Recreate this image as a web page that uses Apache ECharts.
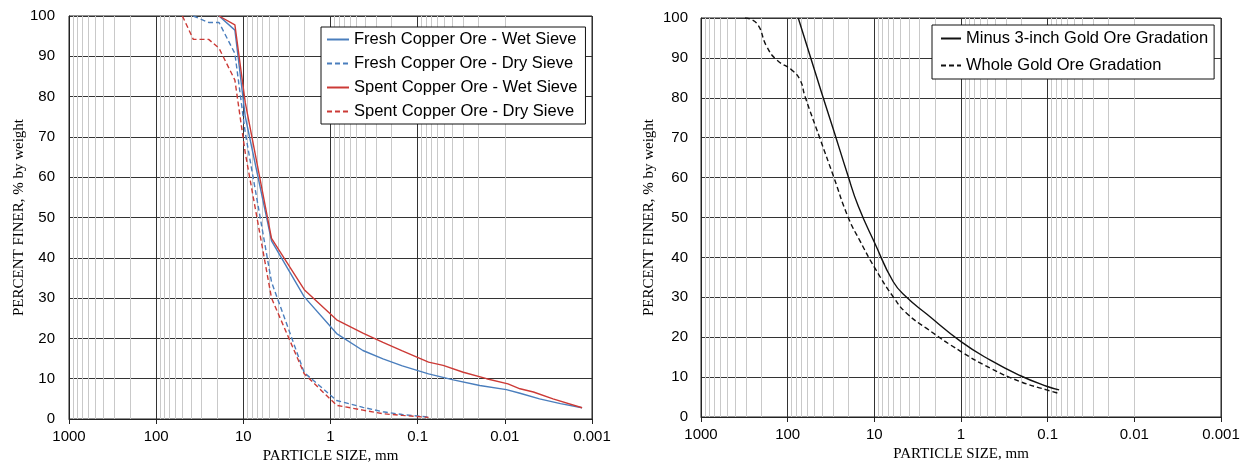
<!DOCTYPE html>
<html>
<head>
<meta charset="utf-8">
<title>Particle size distribution</title>
<script src="https://cdn.jsdelivr.net/npm/echarts@6/dist/echarts.min.js"></script>
<style>
  html, body { margin: 0; padding: 0; background: #fff; }
  #chart { width: 1247px; height: 462px; }
</style>
</head>
<body>
<div id="chart"></div>
<script>
// Particle size (mm) and percent finer (% by weight) for each gradation curve.
const sizeFreshWet  = [19, 12.5, 9.5, 4.75, 2.0, 0.85, 0.425, 0.25, 0.15, 0.075, 0.039, 0.0194, 0.0096, 0.0067, 0.0040, 0.0023, 0.0013];
const finerFreshWet = [100, 96.5, 75, 44.2, 30.3, 21.2, 17.0, 14.9, 13.2, 11.2, 9.7, 8.3, 7.3, 6.4, 5.0, 3.8, 2.8];

const sizeFreshDry  = [37.5, 25, 19, 12.5, 9.5, 4.75, 2.0, 0.85, 0.425, 0.25, 0.15, 0.075];
const finerFreshDry = [100, 98.4, 98.4, 90.7, 71, 34, 11.5, 4.6, 2.9, 1.8, 1.1, 0.5];

const sizeSpentWet  = [19, 12.5, 9.5, 4.75, 2.0, 0.85, 0.425, 0.25, 0.15, 0.075, 0.051, 0.030, 0.0162, 0.0092, 0.0067, 0.0047, 0.0028, 0.0013];
const finerSpentWet = [100, 97.8, 78.5, 44.8, 32.1, 24.6, 21.3, 19.0, 16.9, 14.1, 13.3, 11.6, 10.0, 8.7, 7.5, 6.7, 5.0, 2.8];

const sizeSpentDry  = [50, 37.5, 25, 19, 12.5, 9.5, 4.75, 2.0, 0.85, 0.425, 0.25, 0.15, 0.075];
const finerSpentDry = [100, 94.2, 94.2, 92.0, 84.1, 66, 30, 11.2, 3.4, 2.2, 1.3, 0.9, 0.4];

const sizeMinus3  = [75.5, 40.5, 29.8, 20.3, 15.3, 9.84, 6.05, 4.24, 2.49, 1.0, 0.464, 0.209, 0.103, 0.0737];
const finerMinus3 = [100, 81.2, 72.2, 60.7, 52.8, 43.5, 33.9, 30.0, 25.8, 18.9, 14.3, 10.4, 7.7, 6.8];

const sizeWhole  = [311, 228, 175, 134, 90, 72, 63, 42.4, 29.8, 20, 14.7, 9.84, 6.05, 4.24, 2.49, 1.0, 0.464, 0.209, 0.103, 0.0737];
const finerWhole = [100, 98.7, 92.9, 89.5, 87.0, 84.5, 80.3, 69.8, 60.5, 50.0, 44.2, 37.3, 30.1, 26.0, 22.2, 16.4, 12.3, 8.9, 6.8, 5.9];

const xTickLabels = ['0.001', '0.01', '0.1', '1', '10', '100', '1000'];
const copperNames = ['Fresh Copper Ore - Wet Sieve', 'Fresh Copper Ore - Dry Sieve',
                     'Spent Copper Ore - Wet Sieve', 'Spent Copper Ore - Dry Sieve'];
const goldNames = ['Minus 3-inch Gold Ore Gradation', 'Whole Gold Ore Gradation'];

const BLUE = '#4a7ebd';
const RED = '#cc3a36';
const SANS = 'Liberation Sans';
const SERIF = 'Liberation Serif';

function pairs(xs, ys) { return xs.map((x, i) => [x, ys[i]]); }

// 2..9 × 10^k grid positions inside each decade of the log axis
const minorValues = [];
for (let k = -3; k <= 2; k++) {
  for (let m = 2; m <= 9; m++) minorValues.push(+(m * Math.pow(10, k)).toPrecision(3));
}

function xAxisFor(idx) {
  return {
    type: 'log', logBase: 10, gridIndex: idx, min: 0.001, max: 1000, inverse: true, splitNumber: 6,
    name: 'PARTICLE SIZE, mm', nameLocation: 'middle', nameGap: 27,
    nameTextStyle: { fontFamily: SERIF, fontSize: 15, color: '#000' },
    axisLine: { show: true, lineStyle: { color: '#222', width: 1 } },
    axisTick: { show: true, length: 5, lineStyle: { color: '#222' } },
    axisLabel: {
      color: '#000', fontFamily: SANS, fontSize: 15, margin: 10,
      formatter: v => xTickLabels[Math.round(Math.log10(v)) + 3]
    },
    splitLine: { show: true, lineStyle: { color: '#333', width: 1 } }
  };
}

function yAxisFor(idx, gap, labelMargin) {
  return {
    type: 'value', gridIndex: idx, min: 0, max: 100, interval: 10,
    name: 'PERCENT FINER, % by weight', nameLocation: 'middle', nameGap: gap,
    nameTextStyle: { fontFamily: SERIF, fontSize: 15, color: '#000' },
    axisLine: { show: true, lineStyle: { color: '#222', width: 1 } },
    axisTick: { show: false },
    axisLabel: { color: '#000', fontFamily: SANS, fontSize: 15, margin: labelMargin },
    splitLine: { show: true, lineStyle: { color: '#333', width: 1 } }
  };
}

function minorGrid(idx) {
  return {
    type: 'line', xAxisIndex: idx, yAxisIndex: idx, data: [], silent: true, z: 1,
    markLine: {
      z: 1, silent: true, symbol: 'none', label: { show: false }, animation: false,
      lineStyle: { color: '#c9c9c9', width: 1, type: 'solid' },
      data: minorValues.map(v => ({ xAxis: v }))
    }
  };
}

function curve(name, idx, xs, ys, color, dashed, smooth) {
  return {
    type: 'line', name, xAxisIndex: idx, yAxisIndex: idx, data: pairs(xs, ys),
    symbol: 'none', smooth: smooth || false, z: 3,
    lineStyle: { color, width: 1.4, type: dashed ? [5, 3] : 'solid' },
    itemStyle: { color }
  };
}

function legendFor(names, left, top, padding, itemGap, itemWidth) {
  return {
    data: names, orient: 'vertical', left, top, padding, itemGap,
    itemWidth, itemHeight: 16, z: 10,
    itemStyle: { opacity: 0 },
    backgroundColor: '#fff', borderColor: '#111', borderWidth: 1, borderRadius: 0,
    selectedMode: false,
    textStyle: { fontFamily: SANS, fontSize: 16.5, color: '#000' }
  };
}

const chart = echarts.init(document.getElementById('chart'), null, { renderer: 'canvas' });
chart.setOption({
  animation: false,
  backgroundColor: '#fff',
  grid: [
    { left: 69, top: 16, width: 523, height: 403, containLabel: false, outerBoundsMode: 'none',
      show: true, borderColor: '#222', borderWidth: 1, backgroundColor: 'transparent' },
    { left: 701, top: 18, width: 520, height: 399, containLabel: false, outerBoundsMode: 'none',
      show: true, borderColor: '#222', borderWidth: 1, backgroundColor: 'transparent' }
  ],
  xAxis: [xAxisFor(0), xAxisFor(1)],
  yAxis: [yAxisFor(0, 42, 14), yAxisFor(1, 44, 13)],
  legend: [
    legendFor(copperNames, 321, 27, [4, 8, 4, 5], 7, 22),
    legendFor(goldNames, 932, 25, [5, 6, 5, 8], 10, 20)
  ],
  series: [
    minorGrid(0),
    minorGrid(1),
    curve(copperNames[0], 0, sizeFreshWet, finerFreshWet, BLUE, false),
    curve(copperNames[1], 0, sizeFreshDry, finerFreshDry, BLUE, true),
    curve(copperNames[2], 0, sizeSpentWet, finerSpentWet, RED, false),
    curve(copperNames[3], 0, sizeSpentDry, finerSpentDry, RED, true),
    curve(goldNames[0], 1, sizeMinus3, finerMinus3, '#111', false, 0.5),
    curve(goldNames[1], 1, sizeWhole, finerWhole, '#111', true, 0.5)
  ]
});
</script>
</body>
</html>
